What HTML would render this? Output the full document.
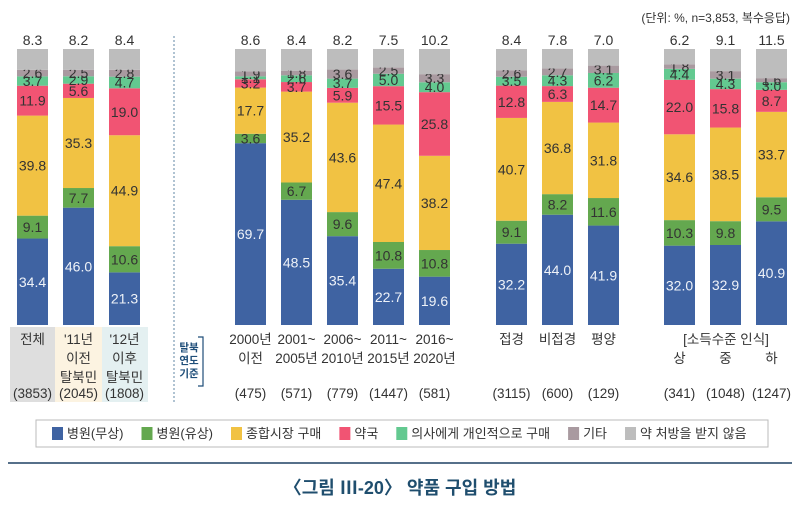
<!DOCTYPE html>
<html><head><meta charset="utf-8">
<style>
body{margin:0;background:#fff;}
svg{display:block;font-family:"Liberation Sans","Noto Sans CJK KR",sans-serif;}
</style></head>
<body>
<svg id="chart" width="800" height="515" viewBox="0 0 800 515" xmlns="http://www.w3.org/2000/svg">
<text x="790" y="22" text-anchor="end" font-size="12" fill="#333">(단위: %, n=3,853, 복수응답)</text>
<rect x="10" y="327" width="45" height="75" fill="#dedede"/>
<rect x="55" y="327" width="47" height="75" fill="#fcf3e1"/>
<rect x="102" y="327" width="46" height="75" fill="#e4f0f1"/>
<line x1="174" y1="36" x2="174" y2="402" stroke="#7b9bb5" stroke-width="1.2" stroke-dasharray="2,2"/>
<g font-size="10.5" fill="#1f4e79" font-weight="bold" text-anchor="middle">
<text x="189" y="351">탈북</text><text x="189" y="364">연도</text><text x="189" y="377">기준</text>
<path d="M198 337 H203 V386 H198" fill="none" stroke="#1f4e79" stroke-width="1.2"/>
</g>
<g id="bars"></g>
<g id="xlabels"></g>
<rect x="36" y="420" width="732" height="27" fill="#fff" stroke="#bbb"/>
<g id="legend"></g>
<line x1="8" y1="463" x2="792" y2="463" stroke="#56708a" stroke-width="2"/>
<text x="400" y="494" text-anchor="middle" font-size="18" font-weight="bold" fill="#1f4e6e">〈그림 Ⅲ-20〉 약품 구입 방법</text>
</svg>
<script>
const categories=["전체","'11년이전","'12년이후","2000년이전","2001~2005년","2006~2010년","2011~2015년","2016~2020년","접경","비접경","평양","상","중","하"];
const hospitalFree=[34.4,46.0,21.3,69.7,48.5,35.4,22.7,19.6,32.2,44.0,41.9,32.0,32.9,40.9];
const hospitalPaid=[9.1,7.7,10.6,3.6,6.7,9.6,10.8,10.8,9.1,8.2,11.6,10.3,9.8,9.5];
const market=[39.8,35.3,44.9,17.7,35.2,43.6,47.4,38.2,40.7,36.8,31.8,34.6,38.5,33.7];
const pharmacy=[11.9,5.6,19.0,3.2,3.7,5.9,15.5,25.8,12.8,6.3,14.7,22.0,15.8,8.7];
const doctor=[3.7,2.9,4.7,1.1,2.6,3.7,5.0,4.0,3.5,4.3,6.2,4.4,4.3,3.0];
const other=[2.6,2.5,2.8,1.9,1.8,3.6,2.5,3.3,2.6,2.7,3.1,1.8,3.1,1.6];
const noRx=[8.3,8.2,8.4,8.6,8.4,8.2,7.5,10.2,8.4,7.8,7.0,6.2,9.1,11.5];
const seriesNames=["병원(무상)","병원(유상)","종합시장 구매","약국","의사에게 개인적으로 구매","기타","약 처방을 받지 않음"];
const catLines=[["전체"],["'11년","이전","탈북민"],["'12년","이후","탈북민"],["2000년","이전"],["2001~","2005년"],["2006~","2010년"],["2011~","2015년"],["2016~","2020년"],["접경"],["비접경"],["평양"],["","상"],["","중"],["","하"]];
const counts=["(3853)","(2045)","(1808)","(475)","(571)","(779)","(1447)","(581)","(3115)","(600)","(129)","(341)","(1048)","(1247)"];

const series=[hospitalFree,hospitalPaid,market,pharmacy,doctor,other,noRx];
const colors=["#3f63a2","#64a84f","#f1c243","#f15473","#63c990","#a99aa0","#bdbdbd"];
const slugs=["hospital-free","hospital-paid","market","pharmacy","doctor","other","no-rx"];
const xPos=[17,63,109,235,281,327,373,419,496,542,588,664,710,756];
const barW=31, plotTop=49, plotBottom=325;
const NS="http://www.w3.org/2000/svg";
function mk(t,a,p){const e=document.createElementNS(NS,t);for(const k in a)e.setAttribute(k,a[k]);p.appendChild(e);return e;}
const bars=document.getElementById('bars');
categories.forEach((c,i)=>{
  let total=0;series.forEach(s=>total+=s[i]);
  const yScale=v=>v/total*(plotBottom-plotTop);
  let y=plotBottom;
  series.forEach((s,j)=>{
    const h=yScale(s[i]);y-=h;
    const r=mk('rect',{x:xPos[i],y:y,width:barW,height:h,fill:colors[j]},bars);
    
    
    if(j<6){
      const t=mk('text',{x:xPos[i]+barW/2,y:y+h/2+5,'text-anchor':'middle','font-size':14,fill:j==0?'#eef2f8':'#333'},bars);
      t.textContent=s[i].toFixed(1);
      
      
    }
  });
  const t=mk('text',{x:xPos[i]+barW/2,y:45,'text-anchor':'middle','font-size':14,fill:'#333'},bars);
  t.textContent=noRx[i].toFixed(1);
  
  
});
const xl=document.getElementById('xlabels');
catLines.forEach((lines,i)=>{
  const cx=xPos[i]+barW/2;
  lines.forEach((l,k)=>{
    if(!l)return;
    const t=mk('text',{x:cx,y:344+k*19,'text-anchor':'middle','font-size':13.5,fill:'#333'},xl);
    t.textContent=l;
    
    
  });
  const t=mk('text',{x:cx,y:398,'text-anchor':'middle','font-size':13.5,fill:'#333'},xl);
  t.textContent=counts[i];
  
  
});
const hdr=mk('text',{x:726,y:344,'text-anchor':'middle','font-size':13.5,fill:'#333'},xl);
hdr.textContent="[소득수준 인식]";


const lg=document.getElementById('legend');
let lx=52;
seriesNames.forEach((n,j)=>{
  const r=mk('rect',{x:lx,y:427,width:11,height:13,fill:colors[j]},lg);
  
  
  const t=mk('text',{x:lx+15,y:438,'font-size':13,fill:'#333'},lg);
  t.textContent=n;
  
  
  lx+=15+t.getComputedTextLength()+18;
});
</script>
</body></html>
